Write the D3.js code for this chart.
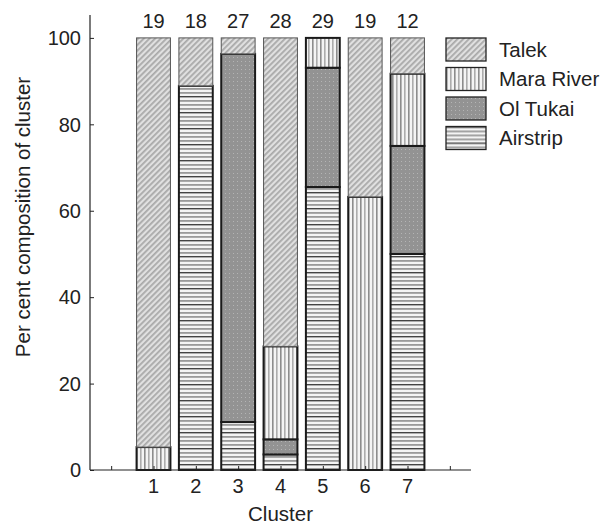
<!DOCTYPE html>
<html><head><meta charset="utf-8">
<script src="https://cdn.jsdelivr.net/npm/d3@7"></script>
<style>
html,body{margin:0;padding:0;background:#fff;}
svg{display:block;font-family:"Liberation Sans",Arial,sans-serif;}
</style></head>
<body>
<svg id="c" width="616" height="525"></svg>
<script>
const clusters = [1, 2, 3, 4, 5, 6, 7];
const counts = [19, 18, 27, 28, 29, 19, 12];
const seriesNames = ["Airstrip", "Ol Tukai", "Mara River", "Talek"];
const airstrip  = [0, 88.9, 11.1, 3.6, 65.5, 0, 50];
const olTukai   = [0, 0, 85.2, 3.5, 27.6, 0, 25];
const maraRiver = [5.3, 0, 0, 21.5, 6.9, 63.2, 16.7];
const talek     = [94.7, 11.1, 3.7, 71.4, 0, 36.8, 8.3];
const yTicks = [0, 20, 40, 60, 80, 100];
const xTicks = [0, 1, 2, 3, 4, 5, 6, 7, 8];
const legendOrder = ["Talek", "Mara River", "Ol Tukai", "Airstrip"];

const pid = k => "p-" + k.replace(/\s+/g, "");
const svg = d3.select("#c");
const defs = svg.append("defs");

// Talek: light diagonal hatch
let p = defs.append("pattern").attr("id", pid("Talek")).attr("patternUnits", "userSpaceOnUse")
  .attr("width", 4).attr("height", 4).attr("patternTransform", "rotate(45)");
p.append("rect").attr("width", 4).attr("height", 4).attr("fill", "#e0e0e0");
p.append("rect").attr("width", 1.8).attr("height", 4).attr("fill", "#a9a9a9");

// Mara River: vertical stripes
p = defs.append("pattern").attr("id", pid("Mara River")).attr("patternUnits", "userSpaceOnUse")
  .attr("width", 8).attr("height", 8);
p.append("rect").attr("width", 8).attr("height", 8).attr("fill", "#f4f4f4");
p.append("rect").attr("x", 0).attr("width", 1.6).attr("height", 8).attr("fill", "#8c8c8c");
p.append("rect").attr("x", 4).attr("width", 1.6).attr("height", 8).attr("fill", "#acacac");

// Ol Tukai: grey with fine dots
p = defs.append("pattern").attr("id", pid("Ol Tukai")).attr("patternUnits", "userSpaceOnUse")
  .attr("width", 4).attr("height", 4);
p.append("rect").attr("width", 4).attr("height", 4).attr("fill", "#939393");
p.append("rect").attr("x", 1).attr("y", 1).attr("width", 1).attr("height", 1).attr("fill", "#b4b4b4");

// Airstrip: horizontal stripes
p = defs.append("pattern").attr("id", pid("Airstrip")).attr("patternUnits", "userSpaceOnUse")
  .attr("width", 8).attr("height", 16);
p.append("rect").attr("width", 8).attr("height", 16).attr("fill", "#f4f4f4");
p.append("rect").attr("y", 0).attr("width", 8).attr("height", 1.4).attr("fill", "#444");
p.append("rect").attr("y", 4).attr("width", 8).attr("height", 1.8).attr("fill", "#9a9a9a");
p.append("rect").attr("y", 8).attr("width", 8).attr("height", 1.8).attr("fill", "#9a9a9a");
p.append("rect").attr("y", 12).attr("width", 8).attr("height", 1.8).attr("fill", "#9a9a9a");

const x = d3.scaleLinear().domain([-0.5, 8.5]).range([90, 471]);
const y = d3.scaleLinear().domain([0, 105.3]).range([470, 15]);

const rows = clusters.map((c, i) => ({
  cluster: c, "Airstrip": airstrip[i], "Ol Tukai": olTukai[i],
  "Mara River": maraRiver[i], "Talek": talek[i]
}));
const stack = d3.stack().keys(seriesNames)(rows);
const bw = x(0.4) - x(-0.4);

stack.forEach(layer => {
  const key = layer.key;
  svg.append("g").selectAll("rect")
    .data(layer.filter(d => d[1] - d[0] > 0.01))
    .join("rect")
    .attr("x", d => x(d.data.cluster) - bw / 2)
    .attr("width", bw)
    .attr("y", d => y(d[1]))
    .attr("height", d => y(d[0]) - y(d[1]))
    .attr("fill", `url(#${pid(key)})`)
    .attr("stroke", key === "Talek" ? "#555" : "#1a1a1a")
    .attr("stroke-width", key === "Talek" ? 1 : 2);
});

// Axes
const yAxis = d3.axisRight(y).tickValues(yTicks).tickSize(4).tickFormat("");
const gy = svg.append("g").attr("transform", "translate(90,0)").call(yAxis);
gy.select(".domain").remove();
gy.selectAll(".tick line").attr("stroke", "#222");
svg.append("line").attr("x1", 90).attr("x2", 90).attr("y1", y.range()[1]).attr("y2", y.range()[0])
  .attr("stroke", "#222").attr("stroke-width", 1.2);
svg.append("g").selectAll("text").data(yTicks).join("text")
  .attr("x", 81).attr("y", d => y(d)).attr("dy", "0.36em")
  .attr("text-anchor", "end").attr("font-size", 20).attr("fill", "#222").text(d => d);

const xAxis = d3.axisTop(x).tickValues(xTicks).tickSize(4).tickFormat("");
const gx = svg.append("g").attr("transform", "translate(0,470)").call(xAxis);
gx.select(".domain").remove();
gx.selectAll(".tick line").attr("stroke", "#222");
svg.append("line").attr("x1", x.range()[0]).attr("x2", x.range()[1]).attr("y1", 470).attr("y2", 470)
  .attr("stroke", "#222").attr("stroke-width", 1.2);
svg.append("g").selectAll("text").data(clusters).join("text")
  .attr("x", d => x(d)).attr("y", 493)
  .attr("text-anchor", "middle").attr("font-size", 20).attr("fill", "#222").text(d => d);

// counts above bars
svg.append("g").selectAll("text").data(clusters).join("text")
  .attr("x", d => x(d)).attr("y", 28)
  .attr("text-anchor", "middle").attr("font-size", 20).attr("fill", "#222").text((d, i) => counts[i]);

// axis titles
svg.append("text").attr("x", x(4)).attr("y", 521).attr("text-anchor", "middle")
  .attr("font-size", 20.5).attr("fill", "#222").text("Cluster");
svg.append("text").attr("transform", "translate(30,217) rotate(-90)").attr("text-anchor", "middle")
  .attr("font-size", 20.5).attr("fill", "#222").text("Per cent composition of cluster");

// legend
const lg = svg.append("g").selectAll("g").data(legendOrder).join("g")
  .attr("transform", (d, i) => `translate(446,${38 + i * 29.5})`);
lg.append("rect").attr("width", 40).attr("height", 23)
  .attr("fill", d => `url(#${pid(d)})`).attr("stroke", "#222").attr("stroke-width", 1.3);
lg.append("text").attr("x", 53).attr("y", 11.5).attr("dy", "0.36em")
  .attr("font-size", 20.5).attr("fill", "#222").text(d => d);
</script>
</body></html>
